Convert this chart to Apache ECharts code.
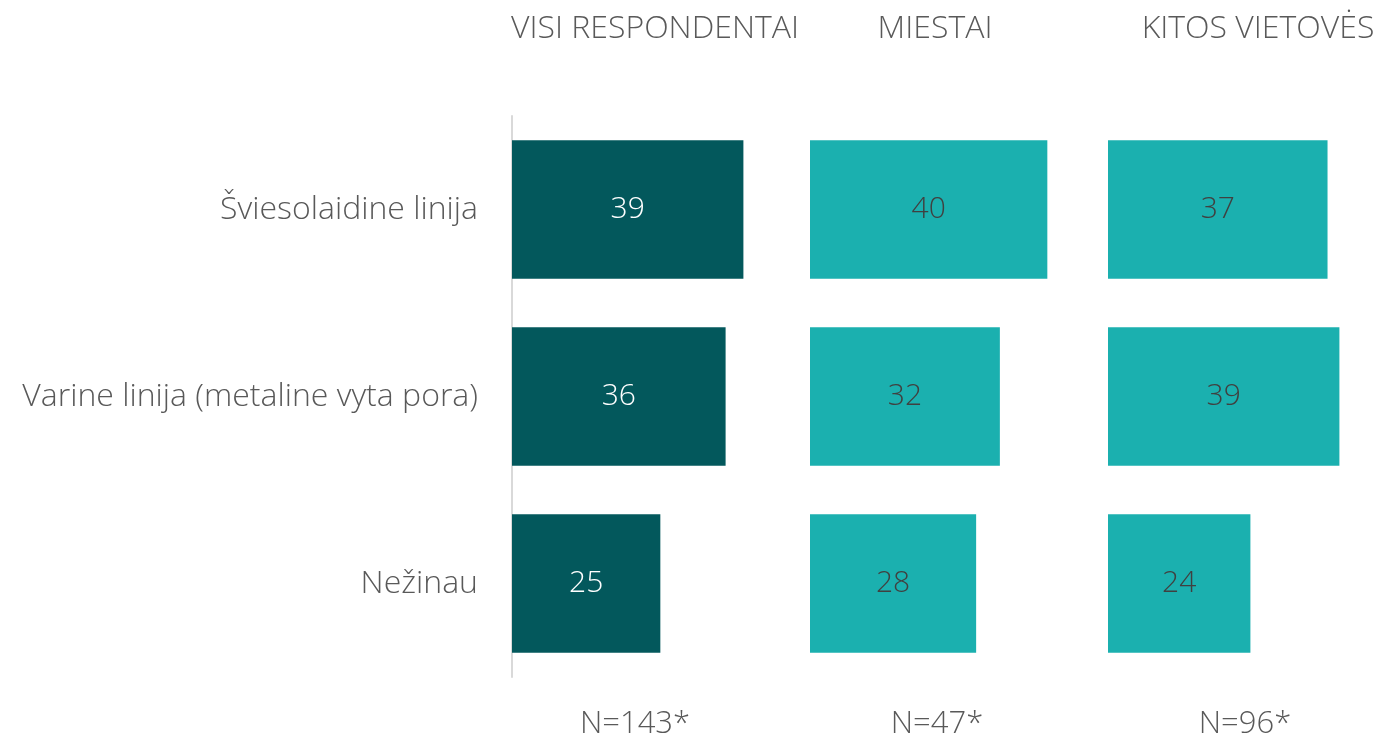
<!DOCTYPE html>
<html>
<head>
<meta charset="utf-8">
<script src="https://cdn.jsdelivr.net/npm/echarts@6/dist/echarts.min.js"></script>
<style>
  html, body { margin: 0; padding: 0; background: #fff; }
  #chart { width: 1379px; height: 740px; }
</style>
</head>
<body>
<div id="chart"></div>
<script>
var categories = ['Šviesolaidine linija', 'Varine linija (metaline vyta pora)', 'Nežinau'];
var panelTitles = ['VISI RESPONDENTAI', 'MIESTAI', 'KITOS VIETOVĖS'];
var sampleSizes = ['N=143*', 'N=47*', 'N=96*'];
var allValues = [39, 36, 25];
var cityValues = [40, 32, 28];
var otherValues = [37, 39, 24];

var FONT = '"Open Sans", "DejaVu Sans", sans-serif';
var panelLeft = [512, 810, 1108];
var panelWidth = 267;
var panelCenter = [650, 930, 1253];
var colors = ['#03585c', '#1bb0af', '#1bb0af'];
var labelColors = ['#ffffff', '#404040', '#404040'];
var seriesData = [allValues, cityValues, otherValues];

var chart = echarts.init(document.getElementById('chart'));

var grids = [], xAxes = [], yAxes = [], series = [], titles = [];
panelLeft.forEach(function (left, i) {
    grids.push({ left: left, top: 116, width: panelWidth, height: 561 });
    xAxes.push({ type: 'value', gridIndex: i, min: 0, max: 45, show: false });
    yAxes.push({
        type: 'category', gridIndex: i, data: categories, inverse: true,
        axisLine: { show: i === 0, lineStyle: { color: '#d9d9d9', width: 2 } },
        axisTick: { show: false },
        axisLabel: {
            show: i === 0, margin: 34, color: '#595959',
            fontFamily: FONT, fontWeight: 300, fontSize: 32,
            padding: [4, 0, 0, 0]
        }
    });
    series.push({
        type: 'bar', xAxisIndex: i, yAxisIndex: i,
        data: seriesData[i], barCategoryGap: '26%',
        itemStyle: { color: colors[i] },
        label: {
            show: true, position: 'inside', color: labelColors[i],
            fontFamily: FONT, fontWeight: 300, fontSize: 30,
            padding: [4, 0, 0, 0]
        },
        silent: true
    });
    titles.push({
        text: panelTitles[i], left: panelCenter[i], top: 8, textAlign: 'center',
        textStyle: { color: '#595959', fontFamily: FONT, fontWeight: 300, fontSize: 32 }
    });
});
var nCenter = [630, 932, 1240];
sampleSizes.forEach(function (s, i) {
    titles.push({
        text: s, left: nCenter[i], top: 704, textAlign: 'center',
        textStyle: { color: '#595959', fontFamily: FONT, fontWeight: 300, fontSize: 31 }
    });
});

chart.setOption({
    animation: false,
    title: titles,
    grid: grids,
    xAxis: xAxes,
    yAxis: yAxes,
    series: series
});
</script>
</body>
</html>
